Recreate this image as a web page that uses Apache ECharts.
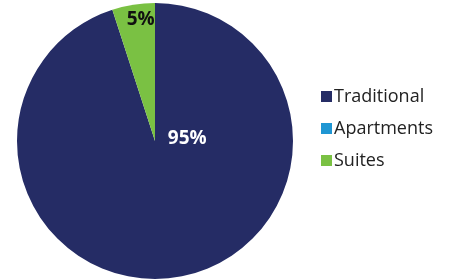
<!DOCTYPE html>
<html lang="en">
<head>
    <meta charset="UTF-8">
    <title>Room mix</title>
    <script src="https://cdn.jsdelivr.net/npm/echarts@6/dist/echarts.min.js"></script>
</head>
<body style="margin:0;">

<div id="wrap" style="width: 450px; height: 279px;"></div>

<script>
    var categories = ["Traditional", "Apartments", "Suites"];
    var shares = [95, 0, 5];
    var colors = ["#252c65", "#1f96d3", "#7ac143"];

    var pie_data = [];
    for (var i = 0; i < categories.length; i++) {
        pie_data.push({name: categories[i], value: shares[i]});
    }

    var myChart = echarts.init(document.getElementById("wrap"));

    var option = {
        animation: false,
        color: colors,
        legend: {
            orient: "vertical",
            left: 316,
            top: 82,
            itemWidth: 11,
            itemHeight: 11,
            itemGap: 13,
            icon: "rect",
            textStyle: {
                fontFamily: '"Open Sans", sans-serif',
                fontSize: 18,
                lineHeight: 19,
                color: "#222",
                padding: [0, 0, 0, -3]
            },
            data: categories
        },
        series: {
            type: "pie",
            center: [155, 141],
            radius: [0, 138],
            startAngle: 90,
            clockwise: true,
            minAngle: 0,
            avoidLabelOverlap: false,
            stillShowZeroSum: true,
            label: {
                show: true,
                position: "inside",
                formatter: function (p) {
                    return p.value > 0 ? p.value + "%" : "";
                },
                fontFamily: '"Open Sans", sans-serif',
                fontSize: 19,
                fontWeight: "bold"
            },
            labelLayout: function (params) {
                if (params.dataIndex === 0) return {dx: 21, dy: -74};
                if (params.dataIndex === 2) return {dx: -3, dy: -50};
                return {};
            },
            labelLine: {show: false},
            itemStyle: {borderWidth: 0},
            emphasis: {disabled: true},
            data: [
                {name: pie_data[0].name, value: pie_data[0].value, label: {color: "#fff"}},
                {name: pie_data[1].name, value: pie_data[1].value},
                {name: pie_data[2].name, value: pie_data[2].value, label: {color: "#111"}}
            ]
        }
    };

    myChart.setOption(option);
</script>
</body>
</html>
